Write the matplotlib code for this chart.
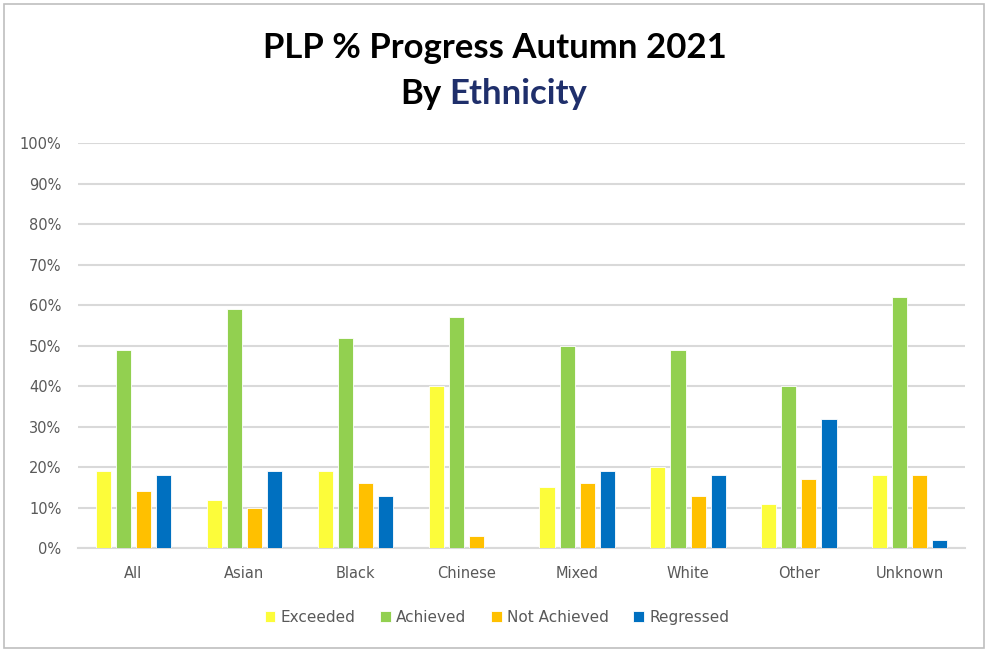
import matplotlib.pyplot as plt
import numpy as np
from matplotlib.patches import Rectangle
from matplotlib.ticker import FuncFormatter

categories = ['All', 'Asian', 'Black', 'Chinese', 'Mixed', 'White', 'Other', 'Unknown']
series_names = ['Exceeded', 'Achieved', 'Not Achieved', 'Regressed']
exceeded = [19, 12, 19, 40, 15, 20, 11, 18]
achieved = [49, 59, 52, 57, 50, 49, 40, 62]
not_achieved = [14, 10, 16, 3, 16, 13, 17, 18]
regressed = [18, 19, 13, 0, 19, 18, 32, 2]
colors = ['#FCFC3A', '#92D050', '#FFC000', '#0070C0']

plt.rcParams['font.family'] = ['DejaVu Sans']

fig = plt.figure(figsize=(9.88, 6.51), dpi=100)
ax = fig.add_axes([0.079, 0.158, 0.898, 0.622])

x = np.arange(len(categories))
width = 0.136
pitch = 0.181
for i, (vals, name, c) in enumerate(zip([exceeded, achieved, not_achieved, regressed], series_names, colors)):
    ax.bar(x + (i - 1.5) * pitch, vals, width, color=c, label=name,
           edgecolor='white', linewidth=0.6, zorder=3)

ax.set_ylim(0, 100)
ax.set_xlim(-0.5, len(categories) - 0.5)
ax.set_yticks(np.arange(0, 101, 10))
ax.yaxis.set_major_formatter(FuncFormatter(lambda v, p: f'{int(v)}%'))
ax.set_xticks(x)
ax.set_xticklabels(categories)
ax.grid(axis='y', color='#D9D9D9', linewidth=1.5, zorder=0)
ax.tick_params(length=0, labelsize=10.5, colors='#595959')
ax.tick_params(axis='x', pad=13)
ax.tick_params(axis='y', pad=12)
for s in ['top', 'right', 'left']:
    ax.spines[s].set_visible(False)
ax.spines['bottom'].set_color('#D9D9D9')
ax.spines['bottom'].set_linewidth(1.5)

title_font = ['Lato', 'DejaVu Sans']
fig.text(0.501, 0.926, 'PLP % Progress Autumn 2021', ha='center', va='center',
         fontsize=25, fontweight='bold', color='black', family=title_font)
fig.text(0.447, 0.855, 'By', ha='right', va='center', fontsize=25, fontweight='bold',
         color='black', family=title_font)
fig.text(0.455, 0.855, 'Ethnicity', ha='left', va='center', fontsize=25, fontweight='bold',
         color='#1F2F6B', family=title_font)

leg = fig.legend(loc='center', bbox_to_anchor=(0.503, 0.052), ncol=4, frameon=False,
                 fontsize=11, handlelength=0.7, handleheight=0.7,
                 handletextpad=0.35, columnspacing=1.6)
for t in leg.get_texts():
    t.set_color('#595959')

fig.patches.append(Rectangle((0.004, 0.004), 0.992, 0.99, transform=fig.transFigure,
                             fill=False, edgecolor='#BFBFBF', linewidth=1.2))

fig.savefig('out.png', dpi=100)
